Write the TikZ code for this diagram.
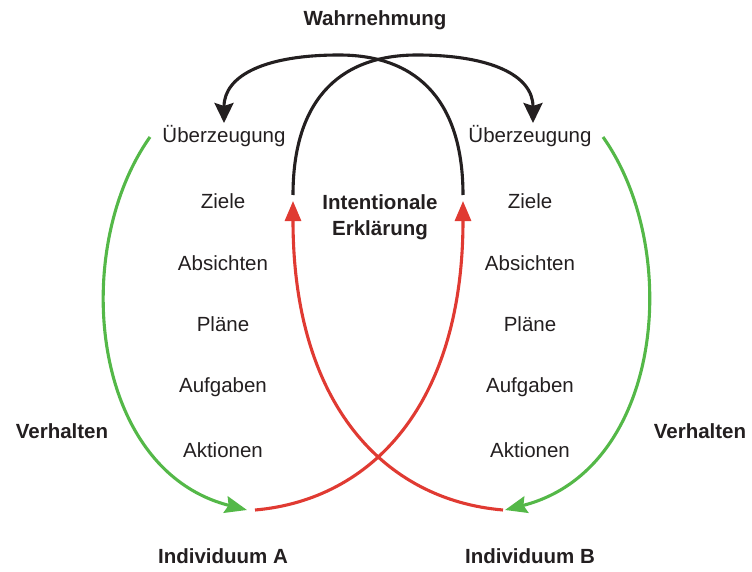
\documentclass[tikz,border=0pt]{standalone}
\usepackage{fontspec}
\setmainfont{Liberation Sans}
\usetikzlibrary{arrows.meta}
\definecolor{ink}{RGB}{35,31,32}
\definecolor{behav}{RGB}{84,184,72}
\definecolor{expl}{RGB}{224,58,50}
\tikzset{
  lbl/.style={anchor=base, text=ink, font=\fontsize{20.5}{25}\selectfont, inner sep=0pt},
  head/.style={lbl, font=\fontsize{20.5}{25}\selectfont\bfseries},
  percept/.style={draw=ink, line width=3.1pt, -{Stealth[length=20pt,width=19pt,inset=3pt]}},
  explain/.style={draw=expl, line width=3.1pt, -{Triangle[length=20pt,width=16pt]}},
  behave/.style={draw=behav, line width=3.1pt, -{Stealth[length=22pt,width=17pt,inset=3pt]}}
}
\begin{document}
\begin{tikzpicture}[x=1pt,y=-1pt]
\useasboundingbox (0,0) rectangle (752,572);

% headings
\node[head] (wahr) at (375,26) {Wahrnehmung};
\node[head, align=center] (intent) at (380,235) {Intentionale\\Erklärung};
\node[head] (verhL) at (62,438) {Verhalten};
\node[head] (verhR) at (700,438) {Verhalten};
\node[head] (indA) at (223,563) {Individuum A};
\node[head] (indB) at (530,563) {Individuum B};

% mental states of individual A
\node[lbl] (uA) at (224,143) {Überzeugung};
\node[lbl] (zA) at (223,208) {Ziele};
\node[lbl] (abA) at (223,270) {Absichten};
\node[lbl] (pA) at (223,331) {Pläne};
\node[lbl] (auA) at (223,392) {Aufgaben};
\node[lbl] (akA) at (223,457) {Aktionen};

% mental states of individual B
\node[lbl] (uB) at (530,143) {Überzeugung};
\node[lbl] (zB) at (530,208) {Ziele};
\node[lbl] (abB) at (530,270) {Absichten};
\node[lbl] (pB) at (530,331) {Pläne};
\node[lbl] (auB) at (530,392) {Aufgaben};
\node[lbl] (akB) at (530,457) {Aktionen};

% end points of the loops
\coordinate (pLo) at (293,195);
\coordinate (pRo) at (463,195);
\coordinate (pLt) at (533,123);
\coordinate (pRt) at (224,123);
\coordinate (eLt) at (293,201);
\coordinate (eRt) at (463,201);
\coordinate (eAs) at (255,510);
\coordinate (eBs) at (503,510);
\coordinate (bAs) at (150,137);
\coordinate (bAt) at (247,510);
\coordinate (bBs) at (603,137);
\coordinate (bBt) at (505,510);

% perception (black)
\draw[percept] (pLo) .. controls (293,105) and (335,55) .. (417,55)
  .. controls (490,55) and (533,75) .. (pLt);
\draw[percept] (pRo) .. controls (463,105) and (421,55) .. (339,55)
  .. controls (266,55) and (224,75) .. (pRt);

% intentional explanation (red)
\draw[explain] (eAs) .. controls (371,500) and (463,405) .. (eRt);
\draw[explain] (eBs) .. controls (385,500) and (293,405) .. (eLt);

% behaviour (green)
\draw[behave] (bAs) .. controls (70,250) and (90,470) .. (bAt);
\draw[behave] (bBs) .. controls (683,250) and (663,470) .. (bBt);
\end{tikzpicture}
\end{document}
